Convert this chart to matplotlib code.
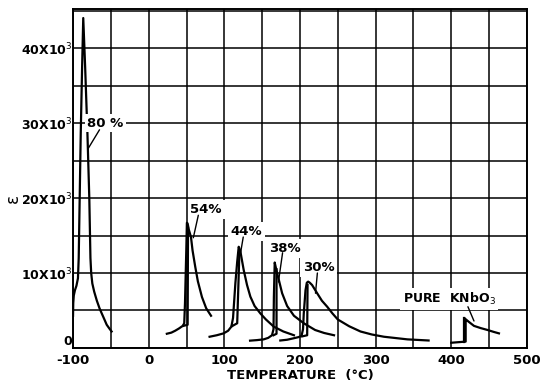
import matplotlib.pyplot as plt

# curvas (temperatura en C, permitividad)
t80 = [-100, -99.7, -99, -97.5, -95.5, -93.5, -92.5, -89.8, -88, -86.5,
       -84, -81, -78.5, -77, -76, -74.5, -72, -68.5, -65, -62, -58.5, -55.5, -52, -49]
e80 = [4300, 6000, 7000, 7700, 8300, 9300, 12000, 28700, 37500, 44000,
       37500, 28700, 20000, 12000, 10000, 8600, 7500, 6300, 5300, 4600, 3800, 3100, 2600, 2200]

t54 = [24, 30, 35, 40, 45, 47, 48, 49.7, 50.5, 51.5, 53, 55.9, 58, 61.6, 65, 70.4, 76, 82.4]
e54 = [1900, 2050, 2300, 2600, 2950, 3300, 6000, 13000, 16700, 16600, 15800, 14800,
       13000, 10800, 8900, 6800, 5300, 4300]

t44 = [80.5, 90, 99, 105, 109.3, 111.5, 114.6, 117, 119, 121, 125.6, 130, 134.4, 140,
       147.7, 155, 165.3, 178, 192]
e44 = [1500, 1700, 1950, 2300, 2850, 4000, 8650, 11500, 13500, 13000, 10400, 8400, 6850,
       5600, 4600, 3800, 2850, 2200, 1700]

t38 = [134, 143, 152, 158, 163, 165, 165.5, 166.6, 169, 172, 176.4, 183, 192, 205, 220, 232, 245]
e38 = [980, 1050, 1150, 1350, 1700, 2500, 6800, 11400, 10300, 9100, 7300, 5600, 4300,
       3300, 2400, 2000, 1700]

t30 = [174, 183, 191.8, 198, 202, 204, 205, 207.3, 209, 210.8, 213, 216, 222.7, 229, 236,
       243, 250, 265, 280, 295, 311, 342, 370]
e30 = [1000, 1100, 1300, 1450, 1600, 2500, 4600, 7700, 8700, 8850, 8700, 8400, 7300, 6300,
       5500, 4600, 3800, 2900, 2200, 1800, 1500, 1150, 1000]

tkn = [400, 410, 419, 419, 417, 423, 430, 439, 448, 456, 463]
ekn = [700, 780, 850, 3500, 4000, 3500, 2950, 2650, 2400, 2150, 1950]

# segundas trazas (enfriamiento)
t38b = [165, 169, 169]
e38b = [1700, 1900, 10500]
t30b = [203, 209.5, 210]
e30b = [1550, 1700, 8400]
t54b = [46, 51.5, 52]
e54b = [2950, 3100, 16000]
t44b = [110, 117, 120]
e44b = [2900, 3300, 13000]
tknb = [417, 417]
eknb = [800, 4000]

xticks = [-100, 0, 100, 200, 300, 400, 500]
yticks = [0, 10000, 20000, 30000, 40000]
ylabels = ['0', r'10X10$^3$', r'20X10$^3$', r'30X10$^3$', r'40X10$^3$']

plt.rcParams['font.family'] = ['DejaVu Sans']
plt.rcParams['axes.unicode_minus'] = False
fig = plt.figure(figsize=(5.41, 3.83), dpi=100)
ax = fig.add_axes([0.135, 0.0914, 0.839, 0.885])

for x in range(-100, 501, 50):
    ax.axvline(x, color='k', lw=1.1, zorder=1)
for y in range(0, 45001, 5000):
    ax.axhline(y, color='k', lw=1.1, zorder=1)

kw = dict(color='k', lw=1.6, zorder=3, solid_joinstyle='round')
for t, e in [(t80, e80), (t54, e54), (t44, e44), (t38, e38), (t30, e30), (tkn, ekn),
             (t38b, e38b), (t30b, e30b), (t54b, e54b), (t44b, e44b), (tknb, eknb)]:
    ax.plot(t, e, **kw)

box = dict(facecolor='white', edgecolor='none', pad=2)
arrow = dict(arrowstyle='-', color='k', lw=1.0, shrinkA=0, shrinkB=0)
etiquetas = [
    ('80 %', (-57, 30000), (-80, 26600), (-65, 29100)),
    ('54%', (76, 18500), (59, 14700), (65.6, 17700)),
    ('44%', (129, 15500), (121, 12400), (125, 14800)),
    ('38%', (179.5, 13300), (171.5, 8800), (177, 12700)),
    ('30%', (225, 10700), (220.5, 7300), (223, 10000)),
]
for txt, pos, tip, base in etiquetas:
    ax.text(pos[0], pos[1], txt, ha='center', va='center', fontsize=9.5,
            fontweight='semibold', bbox=box, zorder=4)
    ax.annotate('', xy=tip, xytext=base, arrowprops=arrow, zorder=4)

ax.text(397, 6500, r'PURE  KNbO$_3$', ha='center', va='center', fontsize=9,
        fontweight='semibold', bbox=box, zorder=4)
ax.annotate('', xy=(430, 3600), xytext=(422, 5500), arrowprops=arrow, zorder=4)

ax.set_xlim(-100, 500)
ax.set_ylim(0, 45200)
ax.set_xticks(xticks)
ax.set_yticks(yticks)
ax.set_yticklabels(ylabels)
ax.tick_params(length=0, labelsize=9, pad=0.5)
ax.tick_params(axis='x', pad=4, labelsize=9.5)
for lab in ax.get_xticklabels() + ax.get_yticklabels():
    lab.set_fontweight('semibold')
ax.get_yticklabels()[0].set_verticalalignment('bottom')
for s in ax.spines.values():
    s.set_linewidth(1.4)

ax.set_xlabel('TEMPERATURE  (°C)', fontsize=9.5, fontweight='semibold', labelpad=2)
ax.set_ylabel('ε', fontsize=12)
ax.yaxis.set_label_coords(-0.112, 0.44)

fig.savefig('out.png', dpi=100)
